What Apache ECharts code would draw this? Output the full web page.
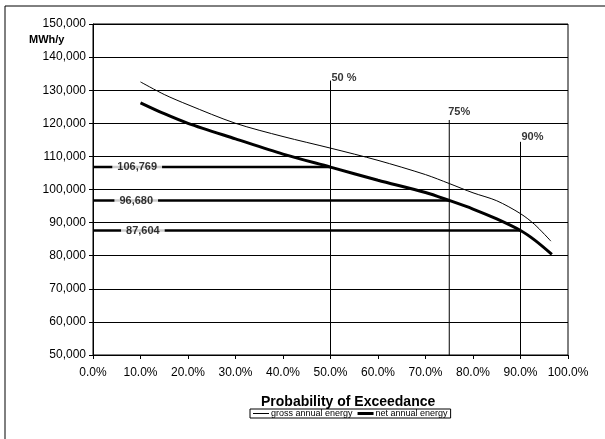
<!DOCTYPE html>
<html>
<head>
<meta charset="utf-8">
<script src="https://cdn.jsdelivr.net/npm/echarts@6/dist/echarts.min.js"></script>
<style>
  html, body { margin: 0; padding: 0; background: #fff; }
  #chart { width: 605px; height: 439px; }
</style>
</head>
<body>
<div id="chart"></div>
<script>
  // gross annual energy curve (probability of exceedance %, MWh/y)
  var grossPct = [10, 15, 20, 30, 40, 50, 60, 70, 75, 80, 85, 90, 93, 96.4];
  var grossVal = [132500, 128700, 125600, 120000, 116000, 112500, 108800, 104500, 101800, 99000, 96600, 92700, 89400, 84400];

  // net annual energy curve
  var netPct = [10, 15, 20, 30, 40, 50, 60, 70, 75, 80, 85, 90, 93, 96.6];
  var netVal = [126200, 122900, 120000, 115300, 110700, 106769, 102800, 99100, 96680, 94100, 91100, 87604, 84700, 80400];

  // P50 / P75 / P90 markers
  var levelPct = [50, 75, 90];
  var levelVal = [106769, 96680, 87604];
  var levelTitle = ['50 %', '75%', '90%'];
  var levelTop = [132900, 121000, 114400];
  var valueLabelPct = [9.3, 9.1, 10.5];

  var chart = echarts.init(document.getElementById('chart'));

  function pairs(xs, ys) {
    return xs.map(function (x, i) { return [x, ys[i]]; });
  }

  var fmt = function (v) { return v.toLocaleString('en-US'); };

  var series = [];

  // horizontal reference lines
  levelPct.forEach(function (p, i) {
    series.push({
      type: 'line',
      data: [[0, levelVal[i]], [p, levelVal[i]]],
      symbol: 'none',
      silent: true,
      lineStyle: { color: '#000', width: 2.5 },
      z: 3
    });
  });

  // vertical exceedance lines
  levelPct.forEach(function (p, i) {
    series.push({
      type: 'line',
      data: [[p, 50000], [p, levelTop[i]]],
      symbol: 'none',
      silent: true,
      lineStyle: { color: '#000', width: 1 },
      z: 2
    });
  });

  // titles at the top of the vertical lines
  series.push({
    type: 'scatter',
    symbolSize: 0,
    silent: true,
    z: 6,
    data: levelPct.map(function (p, i) {
      var lbl = i === 1
        ? { position: 'top', distance: 3, offset: [10, 0] }
        : { position: 'right', distance: 1, offset: [0, i === 0 ? -3 : -5] };
      return { value: [p, levelTop[i]], label: lbl };
    }),
    label: {
      show: true,
      formatter: function (d) { return levelTitle[d.dataIndex]; },
      color: '#000',
      fontWeight: 'bold',
      fontSize: 11,
      fontFamily: 'Liberation Sans'
    }
  });

  series.push({
    name: 'gross annual energy',
    type: 'line',
    data: pairs(grossPct, grossVal),
    smooth: 0.3,
    symbol: 'none',
    lineStyle: { color: '#000', width: 1 },
    z: 4
  });

  series.push({
    name: 'net annual energy',
    type: 'line',
    data: pairs(netPct, netVal),
    smooth: 0.3,
    symbol: 'none',
    lineStyle: { color: '#000', width: 3 },
    z: 4
  });

  // value labels on the reference lines
  series.push({
    type: 'scatter',
    data: valueLabelPct.map(function (p, i) { return [p, levelVal[i]]; }),
    symbolSize: 0,
    silent: true,
    z: 6,
    label: {
      show: true,
      position: 'inside',
      formatter: function (d) { return fmt(d.value[1]); },
      color: '#000',
      fontWeight: 'bold',
      fontSize: 11,
      fontFamily: 'Liberation Sans',
      backgroundColor: '#fff',
      padding: [1, 5]
    }
  });

  chart.setOption({
    animation: false,
    backgroundColor: '#fff',
    textStyle: { fontFamily: 'Liberation Sans' },
    grid: {
      left: 93, right: 37, top: 24, bottom: 84,
      show: true, borderColor: '#000', borderWidth: 1
    },
    legend: {
      data: [
        {
          name: 'gross annual energy',
          icon: 'path://M0,0L16,0L16,0Z M0,3.5L16,3.5L16,4.5L0,4.5Z M0,8L16,8L16,8Z',
          itemStyle: { color: '#000' }
        },
        {
          name: 'net annual energy',
          icon: 'path://M0,0L16,0L16,0Z M0,2.5L16,2.5L16,5.5L0,5.5Z M0,8L16,8L16,8Z',
          itemStyle: { color: '#000' }
        }
      ],
      left: 250, top: 409,
      itemWidth: 16, itemHeight: 8, itemGap: 5,
      padding: [0, 3],
      borderColor: '#000', borderWidth: 1,
      textStyle: { fontSize: 9, color: '#000', padding: [0, 0, 0, -3] }
    },
    xAxis: {
      type: 'value',
      min: 0, max: 100, interval: 10,
      axisLine: { lineStyle: { color: '#000' } },
      axisTick: { show: true, length: 4, lineStyle: { color: '#000' } },
      splitLine: { show: false },
      axisLabel: {
        color: '#000', fontSize: 12, margin: 12,
        formatter: function (v) { return v.toFixed(1) + '%'; }
      }
    },
    yAxis: {
      type: 'value',
      min: 50000, max: 150000, interval: 10000,
      axisLine: { show: true, lineStyle: { color: '#000' } },
      axisTick: { show: true, length: 4, lineStyle: { color: '#000' } },
      splitLine: { lineStyle: { color: '#000', width: 1 } },
      axisLabel: { color: '#000', fontSize: 12, margin: 7, formatter: fmt }
    },
    graphic: [
      { type: 'line', shape: { x1: 5, y1: 6, x2: 605, y2: 6 }, style: { stroke: '#000', lineWidth: 1 } },
      { type: 'line', shape: { x1: 5, y1: 6, x2: 5, y2: 439 }, style: { stroke: '#000', lineWidth: 1 } },
      {
        type: 'text', left: 261, top: 395,
        style: { text: 'Probability of Exceedance', font: 'bold 14px "Liberation Sans"', fill: '#000' }
      },
      {
        type: 'text', left: 29, top: 34,
        style: { text: 'MWh/y', font: 'bold 11px "Liberation Sans"', fill: '#000' }
      }
    ],
    series: series
  });
</script>
</body>
</html>
